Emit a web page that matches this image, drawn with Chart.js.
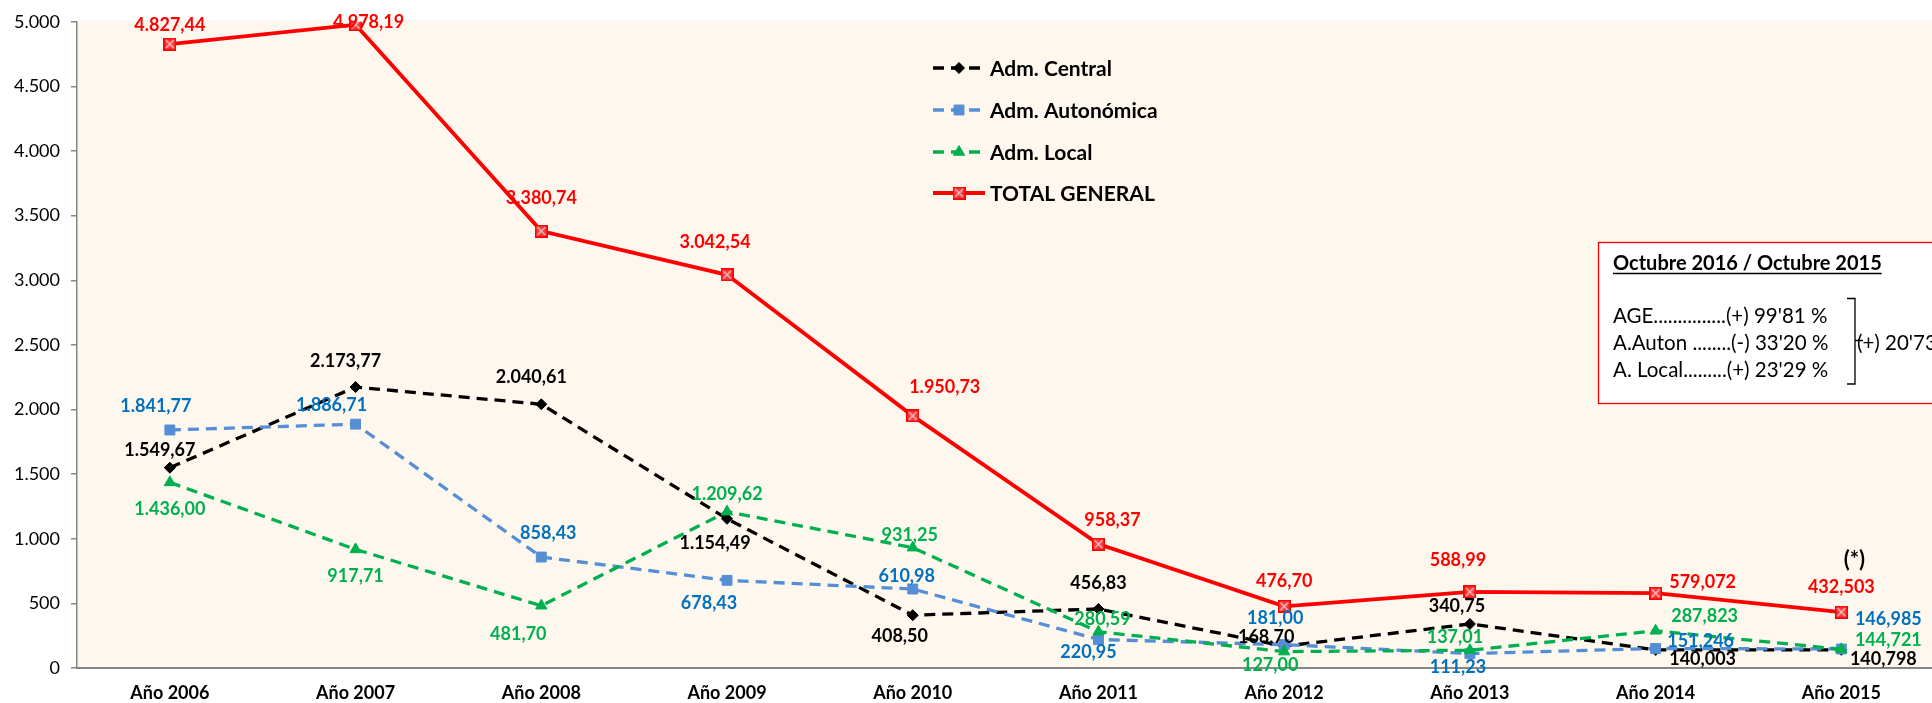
<!DOCTYPE html>
<html><head><meta charset="utf-8">
<script src="https://cdn.jsdelivr.net/npm/chart.js@4.4.1/dist/chart.umd.min.js"></script>
<style>html,body{margin:0;padding:0;overflow:hidden;background:#fff;} canvas{display:block;}</style>
</head><body>
<canvas id="c" width="1944" height="703" style="width:1944px;height:703px"></canvas>
<script>
// ---------- DATA ----------
const categories = ['Año 2006','Año 2007','Año 2008','Año 2009','Año 2010','Año 2011','Año 2012','Año 2013','Año 2014','Año 2015'];
const admCentral    = [1549.67, 2173.77, 2040.61, 1154.49, 408.50, 456.83, 168.70, 340.75, 140.003, 140.798];
const admAutonomica = [1841.77, 1886.71, 858.43, 678.43, 610.98, 220.95, 181.00, 111.23, 151.246, 146.985];
const admLocal      = [1436.00, 917.71, 481.70, 1209.62, 931.25, 280.59, 127.00, 137.01, 287.823, 144.721];
const totalGeneral  = [4827.44, 4978.19, 3380.74, 3042.54, 1950.73, 958.37, 476.70, 588.99, 579.072, 432.503];
const labelDecimals = [2,2,2,2,2,2,2,2,3,3];
const seriesNames = ['Adm. Central','Adm. Autonómica','Adm. Local','TOTAL GENERAL'];
const yMin = 0, yMax = 5000, yStep = 500;
const boxTitle = 'Octubre 2016 / Octubre 2015';
const boxLines = ["AGE...............(+) 99'81 %", "A.Auton ........(-) 33'20 %", "A. Local.........(+) 23'29 %"];
const boxTotal = "(+) 20'73 %";
const footnoteMark = '(*)';

// ---------- STYLE / POSITIONS ----------
const FONT = 'Lato';
function fmtNum(v, d){
  const s = v.toFixed(d); const parts = s.split('.');
  const ip = parts[0].replace(/\B(?=(\d{3})+(?!\d))/g, '.');
  return parts.length>1 ? ip + ',' + parts[1] : ip;
}
const labelOffsets = [
  [[-10,-18],[-10,-26],[-10,-27],[-12,24],[-13,21],[0,-26],[-18,-9],[-13,-18],[47,9],[42,9]],
  [[-14,-24],[-24,-19],[7,-24],[-18,23],[-6,-13],[-10,13],[-9,-26],[-12,14],[45,-7],[47,-30]],
  [[0,27],[0,27],[-23,28],[0,-17],[-3,-12],[4,-13],[-14,14],[-15,-13],[49,-15],[47,-9]],
  [[0,-19],[13,-2],[0,-33],[-12,-33],[32,-29],[14,-24],[0,-25],[-12,-32],[47,-11],[0,-25]]
];
const labelColors = ['#000000','#0070C0','#00B050','#FF0000'];

function makeTotalMarker(){
  const c=document.createElement('canvas'); c.width=13; c.height=13;
  const g=c.getContext('2d');
  g.fillStyle='#F03C3C'; g.fillRect(0,0,13,13);
  g.strokeStyle='#FF0000'; g.lineWidth=1.5; g.strokeRect(0.75,0.75,11.5,11.5);
  g.strokeStyle='#F9C4C4'; g.lineWidth=1.3; g.beginPath();
  g.moveTo(2.5,2.5); g.lineTo(10.5,10.5); g.moveTo(10.5,2.5); g.lineTo(2.5,10.5); g.stroke();
  return c;
}
const totalMarker = makeTotalMarker();

const datasets = [
  {label:seriesNames[0], data:admCentral, borderColor:'#000000', backgroundColor:'#000000', borderWidth:3.3, borderDash:[11,7], pointStyle:'rectRot', pointRadius:5.5, pointBorderWidth:1, order:3},
  {label:seriesNames[1], data:admAutonomica, borderColor:'#558ED5', backgroundColor:'#558ED5', borderWidth:3.3, borderDash:[11,7], pointStyle:'rect', pointRadius:7, pointBorderWidth:1, order:2},
  {label:seriesNames[2], data:admLocal, borderColor:'#00B050', backgroundColor:'#00B050', borderWidth:3.3, borderDash:[11,7], pointStyle:'triangle', pointRadius:6.5, pointBorderWidth:1, order:1},
  {label:seriesNames[3], data:totalGeneral, borderColor:'#FF0000', backgroundColor:'#FF0000', borderWidth:3.8, pointStyle:totalMarker, pointRadius:6, order:0}
];
datasets.forEach(d=>{d.tension=0; d.fill=false;});

const bgPlugin = {
  id:'bg',
  beforeDraw(chart){
    const {ctx, chartArea:a} = chart;
    ctx.save(); ctx.fillStyle='#FEF7EE';
    ctx.fillRect(a.left, a.top-1.5, a.right-a.left, a.bottom-a.top+1.5);
    ctx.restore();
  }
};

const labelPlugin = {
  id:'vlabels',
  afterDatasetsDraw(chart){
    const ctx = chart.ctx; ctx.save();
    ctx.font = 'bold 18px ' + FONT; ctx.textAlign='center'; ctx.textBaseline='middle';
    chart.data.datasets.forEach((ds, i)=>{
      const meta = chart.getDatasetMeta(i);
      ctx.fillStyle = labelColors[i];
      meta.data.forEach((pt, j)=>{
        const off = labelOffsets[i][j];
        ctx.fillText(fmtNum(ds.data[j], labelDecimals[j]), pt.x+off[0], pt.y+off[1]);
      });
    });
    const lastPt = chart.getDatasetMeta(3).data[9];
    ctx.fillStyle='#000'; ctx.font='bold 22px ' + FONT;
    ctx.fillText(footnoteMark, lastPt.x+13, lastPt.y-52);
    ctx.restore();
  }
};

const legendPlugin = {
  id:'customLegend',
  afterDraw(chart){
    const ctx = chart.ctx; ctx.save();
    const x0=933, x1=985, tx=990, rows=[68,110,152,193];
    chart.data.datasets.forEach((ds,i)=>{
      const y = rows[i];
      ctx.strokeStyle = ds.borderColor; ctx.lineWidth = ds.borderWidth;
      ctx.setLineDash(ds.borderDash || []);
      ctx.beginPath(); ctx.moveTo(x0,y); ctx.lineTo(x1,y); ctx.stroke();
      ctx.setLineDash([]);
      ctx.fillStyle = ds.backgroundColor; ctx.strokeStyle = ds.borderColor; ctx.lineWidth=1;
      Chart.helpers.drawPoint(ctx, {pointStyle:ds.pointStyle, radius:ds.pointRadius, borderWidth:1, rotation:0}, (x0+x1)/2, y);
      ctx.fillStyle='#000'; ctx.font='bold 21px ' + FONT; ctx.textAlign='left'; ctx.textBaseline='middle';
      ctx.fillText(ds.label, tx, y+1);
    });
    ctx.restore();
  }
};

const boxPlugin = {
  id:'noteBox',
  afterDraw(chart){
    const ctx = chart.ctx; ctx.save();
    ctx.fillStyle='#FFFFFF'; ctx.fillRect(1598,242,400,161);
    ctx.strokeStyle='#FF0000'; ctx.lineWidth=1.3; ctx.strokeRect(1598.5,242.5,400,161);
    ctx.fillStyle='#000'; ctx.textBaseline='alphabetic'; ctx.textAlign='left';
    ctx.font='bold 20px ' + FONT;
    ctx.fillText(boxTitle, 1613, 270);
    const w = ctx.measureText(boxTitle).width;
    ctx.strokeStyle='#000'; ctx.lineWidth=1.4; ctx.beginPath(); ctx.moveTo(1613,273.5); ctx.lineTo(1613+w,273.5); ctx.stroke();
    ctx.font='20.5px ' + FONT;
    const ys=[323,350,377];
    boxLines.forEach((t,k)=>ctx.fillText(t,1613,ys[k]));
    ctx.lineWidth=1.3; ctx.beginPath();
    ctx.moveTo(1847,298.5); ctx.lineTo(1855,298.5); ctx.lineTo(1855,384); ctx.lineTo(1847,384);
    ctx.moveTo(1855,340.5); ctx.lineTo(1863,340.5); ctx.stroke();
    ctx.fillText(boxTotal, 1857, 350);
    ctx.restore();
  }
};

new Chart(document.getElementById('c'), {
  type:'line',
  data:{labels:categories, datasets},
  plugins:[bgPlugin, labelPlugin, legendPlugin, boxPlugin],
  options:{
    responsive:false, animation:false, devicePixelRatio:1,
    layout:{padding:{top:20,left:0,right:0,bottom:0}},
    plugins:{legend:{display:false}, tooltip:{enabled:false}},
    scales:{
      x:{offset:true,
         ticks:{color:'#000', font:{family:FONT, size:18, weight:'bold'}, padding:14, maxRotation:0, autoSkip:false},
         grid:{display:true, drawOnChartArea:false, drawTicks:false},
         border:{color:'#868686', width:2},
         afterFit(s){ s.height=35; }},
      y:{min:yMin, max:yMax,
         ticks:{stepSize:yStep, color:'#000', font:{family:FONT, size:18}, padding:11, callback:v=>fmtNum(v,0)},
         grid:{drawOnChartArea:false, drawTicks:true, tickLength:6, color:'#868686', lineWidth:1.5},
         border:{color:'#868686', width:1.5},
         afterFit(s){ s.width=77; }}
    }
  }
});
</script>
</body></html>
